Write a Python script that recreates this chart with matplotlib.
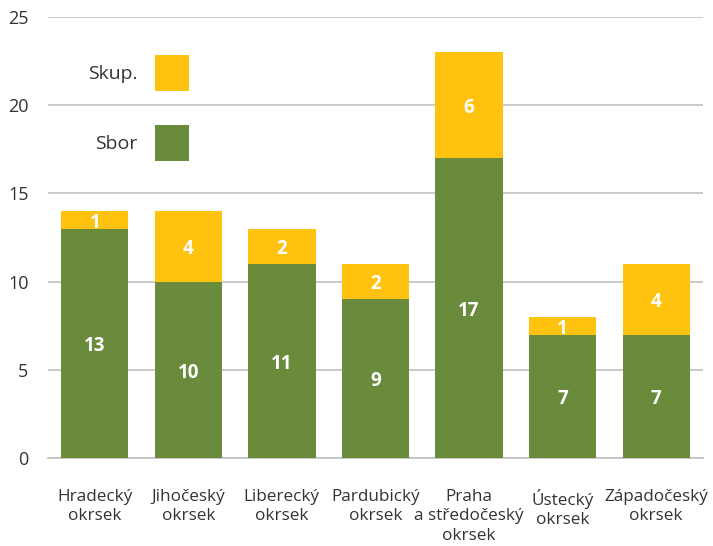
import matplotlib
matplotlib.use("Agg")
import matplotlib.pyplot as plt
import numpy as np

plt.rcParams['font.family'] = ['Open Sans', 'DejaVu Sans']

categories = ['Hradecký\nokrsek', 'Jihočeský\nokrsek', 'Liberecký\nokrsek',
              'Pardubický\nokrsek', 'Praha\na středočeský\nokrsek',
              'Ústecký\nokrsek', 'Západočeský\nokrsek']
sbor = [13, 10, 11, 9, 17, 7, 7]
skup = [1, 4, 2, 2, 6, 1, 4]

green = '#6A8A3C'
yellow = '#FFC20E'

fig = plt.figure(figsize=(7.13, 5.46), dpi=100)
ax = fig.add_axes([0.0673, 0.161, 0.9187, 0.808])

x = np.arange(len(categories))
b1 = ax.bar(x, sbor, width=0.72, color=green, label='Sbor', zorder=3)
b2 = ax.bar(x, skup, width=0.72, bottom=sbor, color=yellow, label='Skup.', zorder=3)

for bars in (b1, b2):
    ax.bar_label(bars, label_type='center', color='white', fontsize=13.5,
                 fontweight='bold', padding=-2)

ax.set_xlim(-0.5, len(categories) - 0.5)
ax.set_ylim(0, 25)
ax.set_yticks(range(0, 26, 5))
ax.set_xticks(x)
ax.set_xticklabels(categories, fontsize=12.3, color='#333333', linespacing=1.3)
ax.tick_params(axis='y', labelsize=13, colors='#333333', length=0, pad=14)
ax.tick_params(axis='x', length=0, pad=22)
ax.grid(axis='y', color='#C0C0C0', linewidth=1.2, zorder=0)
for s in ['top', 'right', 'left']:
    ax.spines[s].set_visible(False)
ax.spines['bottom'].set_color('#C0C0C0')
ax.spines['bottom'].set_linewidth(1.2)

ax.legend(handles=[b2, b1], loc='upper left', bbox_to_anchor=(0.035, 0.953),
          frameon=False, markerfirst=False, fontsize=14,
          handlelength=1.76, handleheight=2.45, labelspacing=1.75,
          handletextpad=0.87, labelcolor='#333333')

plt.savefig('out.png', dpi=100)
